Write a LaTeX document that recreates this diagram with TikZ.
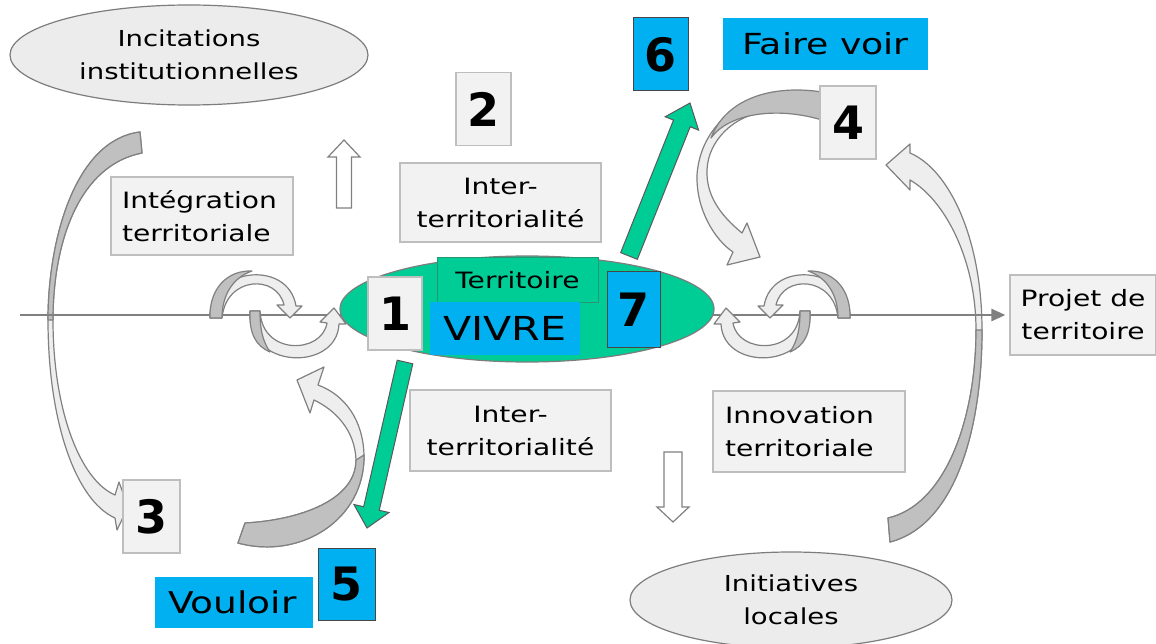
\documentclass[tikz,border=0pt]{standalone}
\usepackage{fontspec}
\newfontfamily\cf[FakeStretch=1.25]{DejaVu Sans}
\newfontfamily\nf{DejaVu Sans}
\usetikzlibrary{shapes.geometric,arrows.meta,calc}
\definecolor{bluec}{RGB}{0,176,240}
\definecolor{greenc}{RGB}{0,204,150}
\definecolor{greenbord}{RGB}{40,150,110}
\definecolor{boxgray}{RGB}{242,242,242}
\definecolor{bordergray}{RGB}{190,190,190}
\definecolor{ellgray}{RGB}{236,236,236}
\definecolor{ellborder}{RGB}{125,125,125}
\definecolor{arrlight}{RGB}{238,238,238}
\definecolor{arrdark}{RGB}{192,192,192}
\definecolor{arrline}{RGB}{128,128,128}
\definecolor{axisc}{RGB}{128,128,128}
\definecolor{blubord}{RGB}{70,70,70}
\tikzset{
  ftxt/.style={font=\cf\fontsize{22.5}{33}\selectfont},
  fell/.style={font=\cf\fontsize{22}{33}\selectfont},
  fnum/.style={font=\nf\bfseries\fontsize{46}{46}\selectfont},
  gbox/.style={rectangle, draw=bordergray, fill=boxgray, line width=1.2pt, inner sep=0pt},
  numbox/.style={gbox, fnum, minimum width=55pt, minimum height=73pt},
  bnumbox/.style={rectangle, fill=bluec, draw=blubord, line width=1pt, inner sep=0pt, fnum, minimum width=55pt, minimum height=73pt},
  bluefill/.style={rectangle, fill=bluec, draw=none, inner sep=0pt},
  gell/.style={ellipse, draw=ellborder, fill=ellgray, line width=1.2pt, inner sep=0pt, align=center, fell},
  greenell/.style={ellipse, draw=ellborder, fill=greenc, line width=1.2pt, inner sep=0pt, minimum width=374pt, minimum height=106pt},
  lightarr/.style={fill=arrlight, draw=arrline, line width=1.2pt, line join=round},
  darkarr/.style={fill=arrdark, draw=arrline, line width=1.2pt, line join=round},
  garrow/.style={fill=greenc, draw=black!65, line width=1pt, line join=miter},
  hollow/.style={fill=white, draw=arrline, line width=1.2pt},
  axisline/.style={draw=axisc, line width=2.5pt, -{Triangle[length=14pt,width=12pt]}, shorten >=4pt},
}
% block arrow: style, tail, tip, half shaft, half head, head length
\newcommand\blockarr[6]{%
  \coordinate (ba-n) at ($(#3)!#6!(#2)$);
  \draw[#1] ($(#2)!#4!90:(#3)$) -- ($(ba-n)!#4!90:(#3)$) -- ($(ba-n)!#5!90:(#3)$) -- (#3)
    -- ($(ba-n)!#5!-90:(#3)$) -- ($(ba-n)!#4!-90:(#3)$) -- ($(#2)!#4!-90:(#3)$) -- cycle;}
% small coiled arrows around the axis (left version)
\newcommand\coilarrows{%
  \draw[lightarr] (210,318) .. controls (208,268) and (288,258) .. (296,306) -- (302,306) -- (290,318) -- (277,305) -- (284,305) .. controls (277,274) and (226,276) .. (222,318) -- cycle;
  \draw[darkarr] (210,318) .. controls (209,288) and (228,270) .. (252,271) .. controls (232,278) and (222,296) .. (222,318) -- cycle;
  \draw[lightarr] (250,311) .. controls (246,370) and (337,372) .. (339,324) -- (346,324) -- (334,308) -- (320,322) -- (327,323) .. controls (322,354) and (262,356) .. (260,311) -- cycle;
  \draw[darkarr] (250,311) .. controls (249,334) and (256,346) .. (270,352) .. controls (262,340) and (260,328) .. (260,311) -- cycle;}
\begin{document}
\begin{tikzpicture}[x=1pt,y=-1pt]
\useasboundingbox (0,0) rectangle (1156,644);
\fill[white] (0,0) rectangle (1156,644);

% big curved arrow: Incitations -> 3
\draw[lightarr] (140,132) .. controls (75,140) and (48,240) .. (48,320) .. controls (48,420) and (75,500) .. (115,518) -- (117,530) -- (128,507) -- (119,482) -- (115,495) .. controls (80,480) and (53,410) .. (53,320) .. controls (53,240) and (80,165) .. (142,153) -- cycle;
\draw[darkarr] (140,132) .. controls (75,140) and (48,240) .. (48,320) -- (53,320) .. controls (53,240) and (80,165) .. (142,153) -- cycle;

% curved arrow from 4 down to the axis
\draw[lightarr] (775,93) .. controls (735,100) and (700,130) .. (697,175) .. controls (696,210) and (715,240) .. (733,252) -- (727,265) -- (760,257) -- (747,223) -- (742,233) .. controls (720,215) and (706,195) .. (707,170) .. controls (708,140) and (735,115) .. (765,112) -- cycle;
\draw[darkarr] (822,92) .. controls (770,84) and (725,100) .. (711,138) .. controls (728,114) and (775,106) .. (822,120) -- cycle;

% big curved arrow: Initiatives -> 4
\draw[lightarr] (890,542) .. controls (955,525) and (982,430) .. (982,330) .. controls (982,240) and (950,170) .. (910,153) -- (910,144) -- (886,165) -- (910,190) -- (910,180) .. controls (945,200) and (976,260) .. (976,330) .. controls (976,420) and (945,505) .. (888,518) -- cycle;
\draw[darkarr] (890,542) .. controls (955,525) and (982,430) .. (982,330) -- (976,330) .. controls (976,420) and (945,505) .. (888,518) -- cycle;

% curved arrow from Vouloir up to the axis
\draw[lightarr] (238,543) .. controls (300,560) and (365,520) .. (364,455) .. controls (363,420) and (345,395) .. (318,385) -- (324,367) -- (297,380) -- (310,413) -- (314,400) .. controls (335,410) and (355,430) .. (356,460) .. controls (356,500) and (300,520) .. (245,523) -- cycle;
\draw[darkarr] (238,543) .. controls (300,560) and (365,520) .. (364,455) -- (356,460) .. controls (356,500) and (300,520) .. (245,523) -- cycle;

% Projet box and axis
\node[gbox, ftxt, minimum width=146pt, minimum height=80pt, align=center] (proj) at (1083,315) {Projet de\\territoire};
\coordinate (axs) at (20,315);
\draw[axisline] (axs) -- (proj.west);

% coils on the axis
\coilarrows
\begin{scope}[shift={(1060,0)}, xscale=-1]
\coilarrows
\end{scope}

% central green ellipse
\node[greenell] (terrell) at (527,309) {};
\node[rectangle, fill=greenc, draw=greenbord, line width=1pt, inner sep=0pt, minimum width=161pt, minimum height=44pt, ftxt] (terr) at (517.5,280) {Territoire};
\node[bluefill, font=\cf\fontsize{33}{36}\selectfont, minimum width=150pt, minimum height=53pt] (vivre) at (505,328.5) {VIVRE};
\node[numbox, minimum width=54pt] (n1) at (395,313.5) {1};
\node[bnumbox, minimum width=53pt, minimum height=75pt] (n7) at (633.5,309.5) {7};

% green arrows
\coordinate (gu1) at (629,256);
\coordinate (gu2) at (690,103);
\blockarr{garrow}{gu1}{gu2}{9pt}{18pt}{22pt}
\coordinate (gd1) at (405,362);
\coordinate (gd2) at (367,528);
\blockarr{garrow}{gd1}{gd2}{8pt}{18pt}{20pt}

% hollow arrows
\coordinate (hu1) at (344,208);
\coordinate (hu2) at (344,140);
\blockarr{hollow}{hu1}{hu2}{7.5pt}{16pt}{17pt}
\coordinate (hd1) at (673,452);
\coordinate (hd2) at (673,522);
\blockarr{hollow}{hd1}{hd2}{9pt}{16pt}{15pt}

% boxes and ellipses
\node[gell, minimum width=358pt, minimum height=100pt] (incit) at (189,55) {Incitations\\institutionnelles};
\node[gbox, ftxt, text width=160pt, inner xsep=11pt, minimum height=78pt, align=left] (integ) at (202,216) {Intégration\\territoriale};
\node[numbox] (n2) at (483.5,109) {2};
\node[gbox, ftxt, minimum width=201pt, minimum height=79pt, align=center] (interU) at (500.5,202.5) {Inter-\\territorialité};
\node[bnumbox] (n6) at (660.5,54.5) {6};
\node[bluefill, font=\cf\fontsize{29}{32}\selectfont, minimum width=205pt, minimum height=52pt] (faire) at (825.5,44) {Faire voir};
\node[numbox, minimum width=56pt] (n4) at (848,122.5) {4};
\node[gbox, ftxt, minimum width=201pt, minimum height=81pt, align=center] (interL) at (510.5,430.5) {Inter-\\territorialité};
\node[gbox, ftxt, text width=168pt, inner xsep=12pt, minimum height=81pt, align=left] (innov) at (809,431.5) {Innovation\\territoriale};
\node[numbox, minimum width=57pt] (n3) at (151.5,516.5) {3};
\node[bnumbox, minimum width=57pt, minimum height=72pt] (n5) at (346.5,584) {5};
\node[bluefill, font=\cf\fontsize{30}{33}\selectfont, text width=132pt, inner xsep=13pt, minimum height=51pt, align=left] (voul) at (234,602.5) {Vouloir};
\node[gell, minimum width=322pt, minimum height=96pt] (initl) at (791,600) {Initiatives\\locales};
\end{tikzpicture}
\end{document}
